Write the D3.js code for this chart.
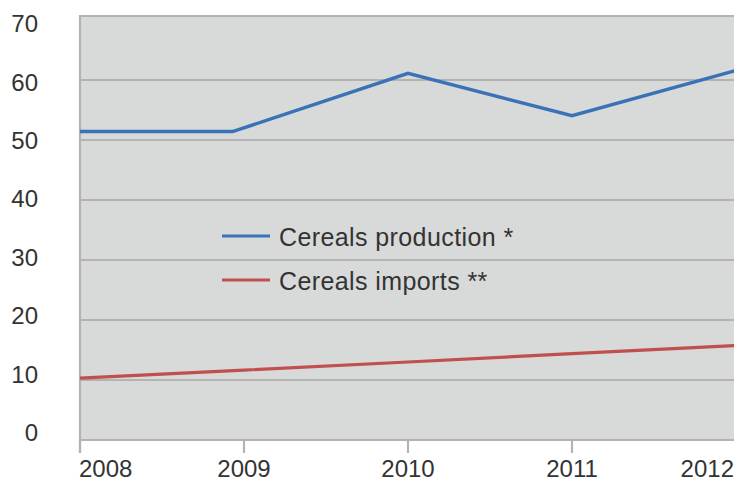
<!DOCTYPE html>
<html><head><meta charset="utf-8">
<script src="https://cdn.jsdelivr.net/npm/d3@7"></script>
<style>
html,body{margin:0;padding:0;background:#fff;}
svg{display:block;font-family:"Liberation Sans",Arial,sans-serif;}
</style></head>
<body>
<svg id="chart" width="734" height="480"></svg>
<script>
const years = [2008, 2009, 2010, 2011, 2012];
const yTicks = [0, 10, 20, 30, 40, 50, 60, 70];
const productionX = [2008, 2008.93, 2010, 2011, 2012];
const production = [51.4, 51.4, 61.1, 54.05, 61.6];
const imports = [10.3, 11.65, 13.0, 14.4, 15.75];
const seriesNames = ["Cereals production *", "Cereals imports **"];
const seriesColors = ["#3a72b8", "#c0504d"];

const svg = d3.select("#chart");
const x = d3.scaleLinear().domain([2008, 2012]).range([80, 736]);
const y = d3.scaleLinear().domain([0, 70]).range([440, 20]);
const yLab = d3.scaleLinear().domain([0, 70]).range([432.5, 24]);
const plotTop = 16;

// plot background
svg.append("rect").attr("x", 80).attr("y", plotTop).attr("width", 660).attr("height", 440 - plotTop)
  .attr("fill", "#d8d9d9");

// gridlines
svg.append("g").selectAll("line").data(yTicks.filter(d => d > 0 && d < 70)).join("line")
  .attr("x1", 80).attr("x2", 740).attr("y1", d => y(d)).attr("y2", d => y(d))
  .attr("stroke", "#b4b3b1").attr("stroke-width", 2);

// frame: top, left, bottom
const frame = svg.append("g").attr("stroke", "#b4b3b1").attr("stroke-width", 2.2);
frame.append("line").attr("x1", 80).attr("x2", 740).attr("y1", plotTop).attr("y2", plotTop);
frame.append("line").attr("x1", 80).attr("x2", 740).attr("y1", y(0)).attr("y2", y(0));
frame.append("line").attr("x1", 80).attr("x2", 80).attr("y1", plotTop - 1).attr("y2", 453);

// x ticks
svg.append("g").selectAll("line").data(years).join("line")
  .attr("x1", d => x(d)).attr("x2", d => x(d)).attr("y1", 440).attr("y2", 453)
  .attr("stroke", "#b4b3b1").attr("stroke-width", 2.2);

// x labels
svg.append("g").selectAll("text").data(years).join("text")
  .attr("x", (d, i) => i === 0 ? 79 : (i === years.length - 1 ? 734 : x(d)))
  .attr("y", 477)
  .attr("text-anchor", (d, i) => i === 0 ? "start" : (i === years.length - 1 ? "end" : "middle"))
  .attr("font-size", 24).attr("fill", "#333")
  .text(d => d);

// y labels
svg.append("g").selectAll("text").data(yTicks).join("text")
  .attr("x", 38).attr("y", d => yLab(d)).attr("dy", "0.35em")
  .attr("text-anchor", "end").attr("font-size", 24).attr("fill", "#333")
  .text(d => d);

// lines
svg.append("clipPath").attr("id", "clip").append("rect")
  .attr("x", 80).attr("y", 0).attr("width", 660).attr("height", 440);
const line = d3.line().x(d => x(d[0])).y(d => y(d[1]));
const g = svg.append("g").attr("clip-path", "url(#clip)");
g.append("path").datum(productionX.map((d, i) => [d, production[i]]))
  .attr("d", line).attr("fill", "none").attr("stroke", seriesColors[0])
  .attr("stroke-width", 3.5).attr("stroke-linejoin", "miter");
g.append("path").datum(years.map((d, i) => [d, imports[i]]))
  .attr("d", line).attr("fill", "none").attr("stroke", seriesColors[1])
  .attr("stroke-width", 3.2);

// legend
const legY = [237, 281];
const leg = svg.append("g").selectAll("g").data(seriesNames).join("g")
  .attr("transform", (d, i) => `translate(0,${legY[i]})`);
leg.append("line").attr("x1", 222).attr("x2", 270).attr("y1", -1).attr("y2", -1)
  .attr("stroke", (d, i) => seriesColors[i]).attr("stroke-width", 3.2);
leg.append("text").attr("x", 279).attr("y", 0).attr("dy", "0.36em")
  .attr("font-size", 25).attr("letter-spacing", 0.4).attr("fill", "#333").text(d => d);
</script>
</body></html>
